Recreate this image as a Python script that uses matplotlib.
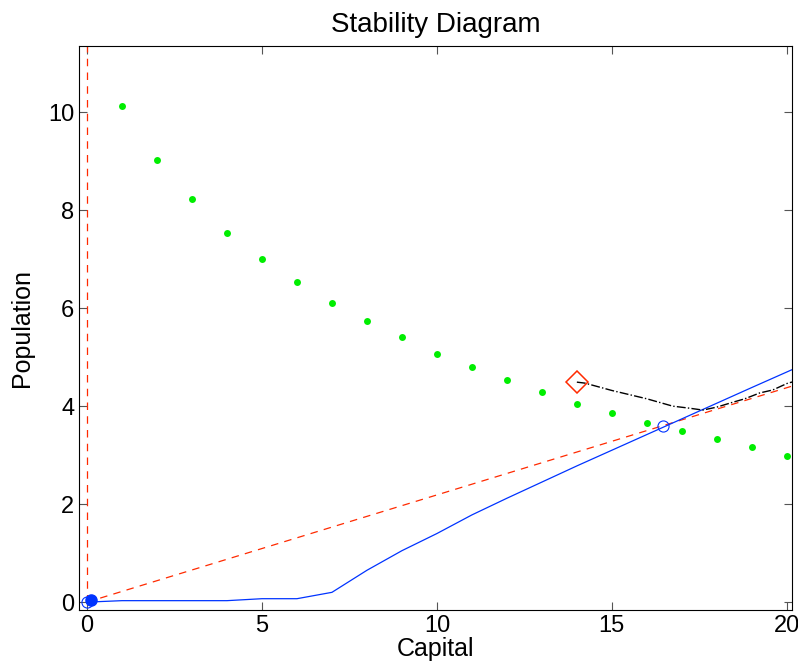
import numpy as np
import matplotlib
matplotlib.use("Agg")
from matplotlib import pyplot as plt

plt.rcParams['font.family'] = ['Liberation Sans', 'DejaVu Sans']

# green points (population trend)
green_x = [1, 2, 3, 4, 5, 6, 7, 8, 9, 10, 11, 12, 13, 14, 15, 16, 17, 18, 19, 20]
green_y = [10.12, 9.02, 8.22, 7.53, 7.0, 6.53, 6.10, 5.73, 5.41, 5.06,
           4.80, 4.53, 4.29, 4.04, 3.86, 3.65, 3.49, 3.33, 3.16, 2.98]

# blue solid curve
blue_x = [0, 1, 4, 5, 6, 7, 8, 9, 10, 11, 12, 13, 14, 15, 16, 17, 18, 19, 20.2]
blue_y = [0.0, 0.03, 0.03, 0.07, 0.07, 0.2, 0.65, 1.05, 1.4, 1.78,
          2.12, 2.45, 2.78, 3.1, 3.42, 3.74, 4.06, 4.38, 4.76]

# red dashed ray and vertical axis line
red_x = [0, 20.2]
red_y = [0, 4.42]
red_vx = [0, 0]
red_vy = [0, 11.5]

# black dash-dot trajectory
traj_x = [14.0, 14.23, 15.0, 16.0, 16.74, 17.2, 17.6, 18.0, 18.46, 18.8, 19.23, 19.6, 20.03, 20.2]
traj_y = [4.49, 4.47, 4.32, 4.15, 4.0, 3.96, 3.92, 3.98, 4.08, 4.15, 4.27, 4.33, 4.47, 4.5]

start_x, start_y = 14.0, 4.49
eq_x, eq_y = 16.46, 3.59

fig = plt.figure(figsize=(7.98, 6.7), dpi=100)
ax = fig.add_axes([0.099, 0.0896, 0.8935, 0.8417])

ax.plot(red_vx, red_vy, '--', color='#ff2a00', lw=0.9, dashes=(6, 5))
ax.plot(red_x, red_y, '--', color='#ff2a00', lw=0.9, dashes=(6, 5))
ax.plot(blue_x, blue_y, '-', color='#0033ff', lw=0.9)
ax.plot(traj_x, traj_y, '-.', color='black', lw=1.0)
ax.plot(green_x, green_y, 'o', color='#00ee00', ms=5, mec='none')
ax.plot([start_x], [start_y], 'D', mfc='none', mec='#ff2a00', ms=11, mew=1.1)
ax.plot([eq_x], [eq_y], 'o', mfc='none', mec='#0033ff', ms=8, mew=0.8)
ax.plot([0], [0], 'o', mfc='none', mec='#0033ff', ms=8, mew=0.8)
ax.plot([0.11], [0.04], 'o', color='#0033ff', ms=8)

ax.set_xlim(-0.23, 20.15)
ax.set_ylim(-0.16, 11.35)
ax.set_xticks([0, 5, 10, 15, 20])
ax.set_yticks([0, 2, 4, 6, 8, 10])
ax.tick_params(direction='in', top=True, right=True, labelsize=17, length=6, color='#555555')
ax.set_title("Stability Diagram", fontsize=20, pad=10)
ax.set_xlabel("Capital", fontsize=18, labelpad=0)
ax.set_ylabel("Population", fontsize=18, labelpad=10)

plt.savefig("out.png", dpi=100)
